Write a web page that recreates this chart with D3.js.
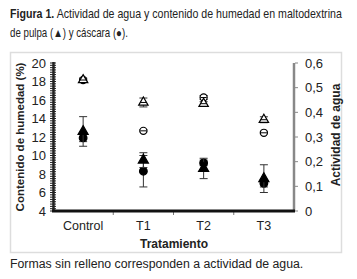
<!DOCTYPE html>
<html>
<head>
<meta charset="utf-8">
<script src="https://cdn.jsdelivr.net/npm/d3@7"></script>
<style>
  body { margin: 0; background: #fff; }
  svg { font-family: "Liberation Sans", Arial, sans-serif; }
</style>
</head>
<body>
<svg width="357" height="279"></svg>
<script>
var categorias = ["Control", "T1", "T2", "T3"];
// humedad (%) eje izquierdo, rellenos
var humedadPulpa = [12.6, 9.5, 8.6, 7.5];
var errHumedadPulpa = [1.6, 0.8, 1.1, 1.5];
var humedadCascara = [11.9, 8.3, 9.2, 7.0];
var errHumedadCascara = [0.4, 1.7, 0.3, 0.4];
// actividad de agua eje derecho, sin relleno
var awPulpa = [0.531, 0.44, 0.435, 0.37];
var errAwPulpa = [0.008, 0.018, 0.008, 0.012];
var awCascara = [0.531, 0.325, 0.46, 0.317];
var errAwCascara = [0.006, 0.004, 0.008, 0.004];
var ticksIzq = [4, 6, 8, 10, 12, 14, 16, 18, 20];
var ticksDer = [0, 0.1, 0.2, 0.3, 0.4, 0.5, 0.6];

var svg = d3.select('svg');

var x = d3.scaleBand().domain(categorias).range([53, 294]);
var yL = d3.scaleLinear().domain([4, 20]).range([211, 63]);
var yR = d3.scaleLinear().domain([0, 0.6]).range([211, 63]);
var coma = d => d3.format('.1f')(d).replace('.', ',').replace(/^0,0$/, '0');

// caja del gráfico
svg.append('rect')
  .attr('x', 10.5).attr('y', 52.5).attr('width', 331).attr('height', 200)
  .attr('fill', 'none').attr('stroke', '#ddd').attr('stroke-width', 1.5);

// titulo, comprimido a lo ancho
function ajustar(sel, x0, y0, ancho) {
  var w = sel.node().getComputedTextLength();
  sel.attr('transform', 'translate(' + x0 + ',' + y0 + ') scale(' + (ancho / w) + ',1)');
}
var t1 = svg.append('text').attr('font-size', 12).attr('fill', '#222');
t1.append('tspan').attr('font-weight', 'bold').text('Figura 1.');
t1.append('tspan').text(' Actividad de agua y contenido de humedad en maltodextrina');
ajustar(t1, 10, 18, 332);
var t2 = svg.append('text').attr('font-size', 12).attr('fill', '#222')
  .text('de pulpa (\u25B2) y cáscara (\u25CF).');
ajustar(t2, 10, 37, 118);

// eje izquierdo con menores
var menores = d3.range(4, 20.001, 0.25);
svg.append('g').selectAll('line').data(menores).enter().append('line')
  .attr('x1', 50).attr('x2', 56)
  .attr('y1', d => yL(d)).attr('y2', d => yL(d))
  .attr('stroke', '#222').attr('stroke-width', 1);
svg.append('line').attr('x1', 53.5).attr('x2', 53.5).attr('y1', 62).attr('y2', 212)
  .attr('stroke', '#222').attr('stroke-width', 2.5);
svg.append('g').selectAll('text').data(ticksIzq).enter().append('text')
  .attr('x', 46).attr('y', d => yL(d) + 4.5)
  .attr('text-anchor', 'end').attr('font-size', 13).attr('fill', '#222')
  .text(d => d);

// eje derecho
svg.append('line').attr('x1', 294).attr('x2', 294).attr('y1', 63).attr('y2', 211)
  .attr('stroke', '#888').attr('stroke-width', 2.5);
svg.append('g').selectAll('line').data(ticksDer).enter().append('line')
  .attr('x1', 295).attr('x2', 298)
  .attr('y1', d => yR(d)).attr('y2', d => yR(d))
  .attr('stroke', '#888');
svg.append('g').selectAll('text').data(ticksDer).enter().append('text')
  .attr('x', 305).attr('y', d => yR(d) + 4.5)
  .attr('font-size', 13).attr('fill', '#222')
  .text(coma);

// eje x
svg.append('g').selectAll('line').data(categorias.slice(1)).enter().append('line')
  .attr('x1', d => x(d)).attr('x2', d => x(d))
  .attr('y1', 211).attr('y2', 215)
  .attr('stroke', '#777');
svg.append('line').attr('x1', 52).attr('x2', 295).attr('y1', 211).attr('y2', 211)
  .attr('stroke', '#111').attr('stroke-width', 3);
svg.append('g').selectAll('text').data(categorias).enter().append('text')
  .attr('x', d => x(d) + x.bandwidth() / 2).attr('y', 230)
  .attr('text-anchor', 'middle').attr('font-size', 12.5).attr('fill', '#222')
  .text(d => d);

// titulos de ejes
svg.append('text').attr('x', 174).attr('y', 248)
  .attr('text-anchor', 'middle').attr('font-size', 12).attr('font-weight', 'bold').attr('fill', '#222')
  .text('Tratamiento');
svg.append('text').attr('transform', 'translate(24,137) rotate(-90)')
  .attr('text-anchor', 'middle').attr('font-size', 11.5).attr('font-weight', 'bold').attr('fill', '#222')
  .text('Contenido de humedad (%)');
svg.append('text').attr('transform', 'translate(340,135) rotate(-90)')
  .attr('text-anchor', 'middle').attr('font-size', 12).attr('font-weight', 'bold').attr('fill', '#222')
  .text('Actividad de agua');

// series
var series = [
  { v: awCascara, e: errAwCascara, y: yR, sym: d3.symbolCircle, size: 40, fill: '#fff' },
  { v: awPulpa, e: errAwPulpa, y: yR, sym: d3.symbolTriangle, size: 38, fill: '#fff' },
  { v: humedadCascara, e: errHumedadCascara, y: yL, sym: d3.symbolCircle, size: 46, fill: '#000' },
  { v: humedadPulpa, e: errHumedadPulpa, y: yL, sym: d3.symbolTriangle, size: 44, fill: '#000' }
];

series.forEach(s => {
  var g = svg.append('g');
  var filas = categorias.map((c, i) => ({ c: c, v: s.v[i], e: s.e[i] }));
  var cx = d => x(d.c) + x.bandwidth() / 2;
  g.selectAll('line.eb').data(filas).enter().append('line')
    .attr('x1', cx).attr('x2', cx)
    .attr('y1', d => s.y(d.v - d.e)).attr('y2', d => s.y(d.v + d.e))
    .attr('stroke', '#333');
  [-1, 1].forEach(sg => {
    g.selectAll('line.cap' + sg).data(filas).enter().append('line')
      .attr('x1', d => cx(d) - 4).attr('x2', d => cx(d) + 4)
      .attr('y1', d => s.y(d.v + sg * d.e)).attr('y2', d => s.y(d.v + sg * d.e))
      .attr('stroke', '#333');
  });
  g.selectAll('path').data(filas).enter().append('path')
    .attr('d', d3.symbol().type(s.sym).size(s.size))
    .attr('transform', d => 'translate(' + cx(d) + ',' + s.y(d.v) + ')')
    .attr('fill', s.fill).attr('stroke', '#000').attr('stroke-width', 1.2);
  if (s.fill === '#fff') {
    g.selectAll('line.mid').data(filas).enter().append('line')
      .attr('x1', d => cx(d) - 3).attr('x2', d => cx(d) + 3)
      .attr('y1', d => s.y(d.v)).attr('y2', d => s.y(d.v))
      .attr('stroke', '#000');
  }
});

// nota
svg.append('text').attr('x', 10).attr('y', 268)
  .attr('font-size', 12.3).attr('fill', '#222')
  .text('Formas sin relleno corresponden a actividad de agua.');
</script>
</body>
</html>
